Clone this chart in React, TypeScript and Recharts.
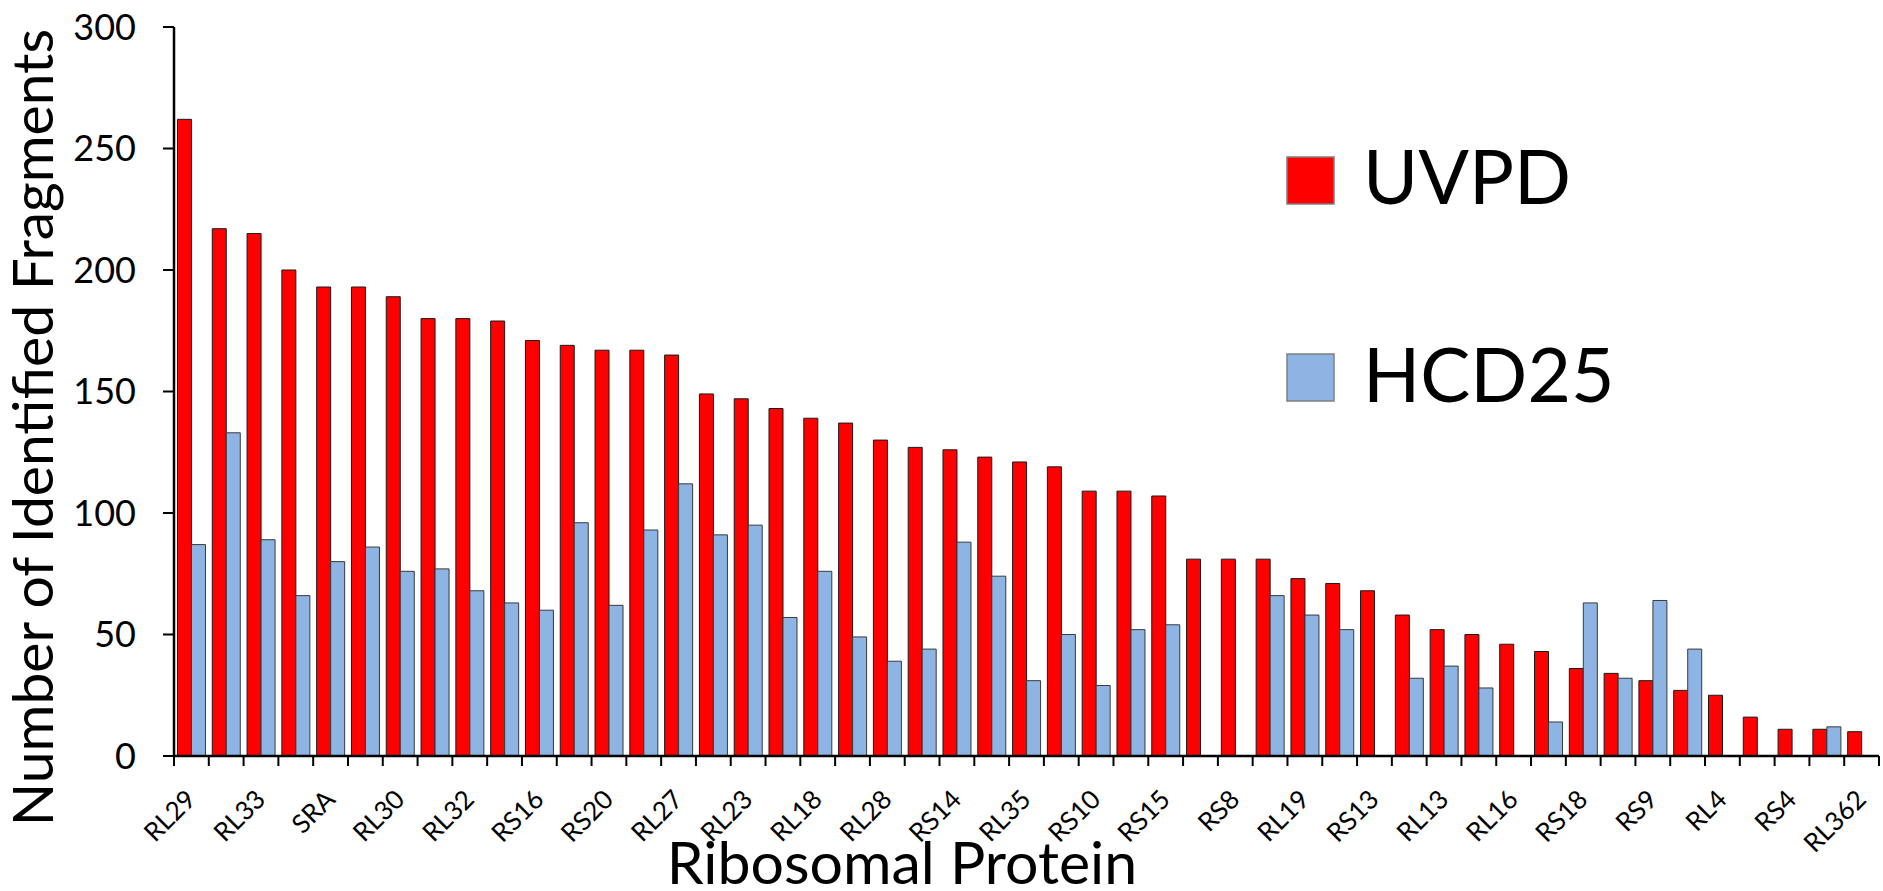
import { BarChart, Bar, XAxis, YAxis, Legend, Label } from 'recharts';

// visible tick labels (every other protein is shown on the axis)
const shownProteins = [
  'RL29', 'RL33', 'SRA', 'RL30', 'RL32', 'RS16', 'RS20', 'RL27', 'RL23', 'RL18', 'RL28', 'RS14', 'RL35',
  'RS10', 'RS15', 'RS8', 'RL19', 'RS13', 'RL13', 'RL16', 'RS18', 'RS9', 'RL4', 'RS4', 'RL362',
];

const uvpd = [
  262, 217, 215, 200, 193, 193, 189, 180, 180, 179, 171, 169, 167, 167, 165, 149, 147, 143, 139, 137, 130, 127, 126,
  123, 121, 119, 109, 109, 107, 81, 81, 81, 73, 71, 68, 58, 52, 50, 46, 43, 36, 34, 31, 27, 25, 16, 11, 11, 10,
];

const hcd25 = [
  87, 133, 89, 66, 80, 86, 76, 77, 68, 63, 60, 96, 62, 93, 112, 91, 95, 57, 76, 49, 39, 44, 88, 74, 31, 50, 29, 52,
  54, 0, 0, 66, 58, 52, 0, 32, 37, 28, 0, 14, 63, 32, 64, 44, 0, 0, 0, 12, 0,
];

const seriesOrder = ['UVPD', 'HCD25'];
const yTicks = [0, 50, 100, 150, 200, 250, 300];

const data = uvpd.map((v, i) => ({
  idx: i,
  label: i % 2 === 0 ? shownProteins[i / 2] : '',
  UVPD: v,
  HCD25: hcd25[i],
}));

const W = 1883;
const H = 891;
const LEFT = 174;
const RIGHT = 4;
const BAND = (W - LEFT - RIGHT) / data.length;
const FONT = 'Lato, "Open Sans", sans-serif';

function XTick(props: any) {
  const { x, y, index, payload } = props;
  const label = data[payload.value]?.label ?? '';
  return (
    <g>
      <line x1={x - BAND / 2} x2={x - BAND / 2} y1={y} y2={y + 10} stroke="#000" strokeWidth={2} />
      {index === data.length - 1 && (
        <line x1={x + BAND / 2} x2={x + BAND / 2} y1={y} y2={y + 10} stroke="#000" strokeWidth={2} />
      )}
      {label && (
        <text
          x={x + 6}
          y={y + 45}
          textAnchor="end"
          fontSize={26}
          fontFamily={FONT}
          fill="#000"
          transform={`rotate(-45, ${x + 6}, ${y + 45})`}
        >
          {label}
        </text>
      )}
    </g>
  );
}

function renderLegend(props: any) {
  const items = [...(props.payload || [])].sort(
    (a: any, b: any) => seriesOrder.indexOf(a.value) - seriesOrder.indexOf(b.value)
  );
  return (
    <svg width={420} height={300} style={{ overflow: 'visible' }}>
      {items.map((it: any, i: number) => (
        <g key={it.value}>
          <rect x={7} y={37 + i * 197} width={47} height={47} fill={it.color} stroke="#7f7f7f" strokeWidth={1.5} />
          <text x={83} y={84 + i * 198} fontSize={75} fontFamily={FONT} fill="#000">
            {it.value}
          </text>
        </g>
      ))}
    </svg>
  );
}

export default function App() {
  return (
    <div style={{ position: 'absolute', left: 0, top: 0, width: W, height: H, background: '#fff' }}>
      <BarChart
        width={W}
        height={H}
        data={data}
        margin={{ top: 27, right: RIGHT, bottom: 0, left: 0 }}
        barCategoryGap="10%"
        barGap={0}
      >
        <XAxis
          dataKey="idx"
          height={135}
          interval={0}
          tickLine={false}
          tickSize={0}
          tickMargin={0}
          axisLine={{ stroke: '#000', strokeWidth: 2.5 }}
          tick={<XTick />}
        >
          <Label
            content={({ viewBox }: any) => (
              <text x={viewBox.x + 728} y={viewBox.y + 128} textAnchor="middle" fontSize={59} fontFamily={FONT} fill="#000">
                Ribosomal Protein
              </text>
            )}
          />
        </XAxis>
        <YAxis
          width={LEFT}
          domain={[0, 300]}
          ticks={yTicks}
          interval={0}
          tickSize={11}
          tickMargin={27}
          tickLine={{ stroke: '#000', strokeWidth: 2 }}
          axisLine={{ stroke: '#000', strokeWidth: 2.5 }}
          tick={{ fontSize: 36, fontFamily: FONT, fill: '#000' }}
        >
          <Label
            content={({ viewBox }: any) => {
              const cx = 53;
              const cy = viewBox.y + viewBox.height / 2 + 36;
              return (
                <text x={cx} y={cy} textAnchor="middle" fontSize={57} fontFamily={FONT} fill="#000" transform={`rotate(-90, ${cx}, ${cy})`}>
                  Number of Identified Fragments
                </text>
              );
            }}
          />
        </YAxis>
        <Legend
          layout="vertical"
          verticalAlign="middle"
          align="center"
          content={renderLegend}
          wrapperStyle={{ position: 'absolute', left: 1280, top: 120, width: 420, height: 300 }}
        />
        <Bar dataKey="UVPD" fill="#ff0000" stroke="#1a1a1a" strokeWidth={1} isAnimationActive={false} />
        <Bar dataKey="HCD25" fill="#8eb4e3" stroke="#3a3a3a" strokeWidth={1} isAnimationActive={false} />
      </BarChart>
    </div>
  );
}
